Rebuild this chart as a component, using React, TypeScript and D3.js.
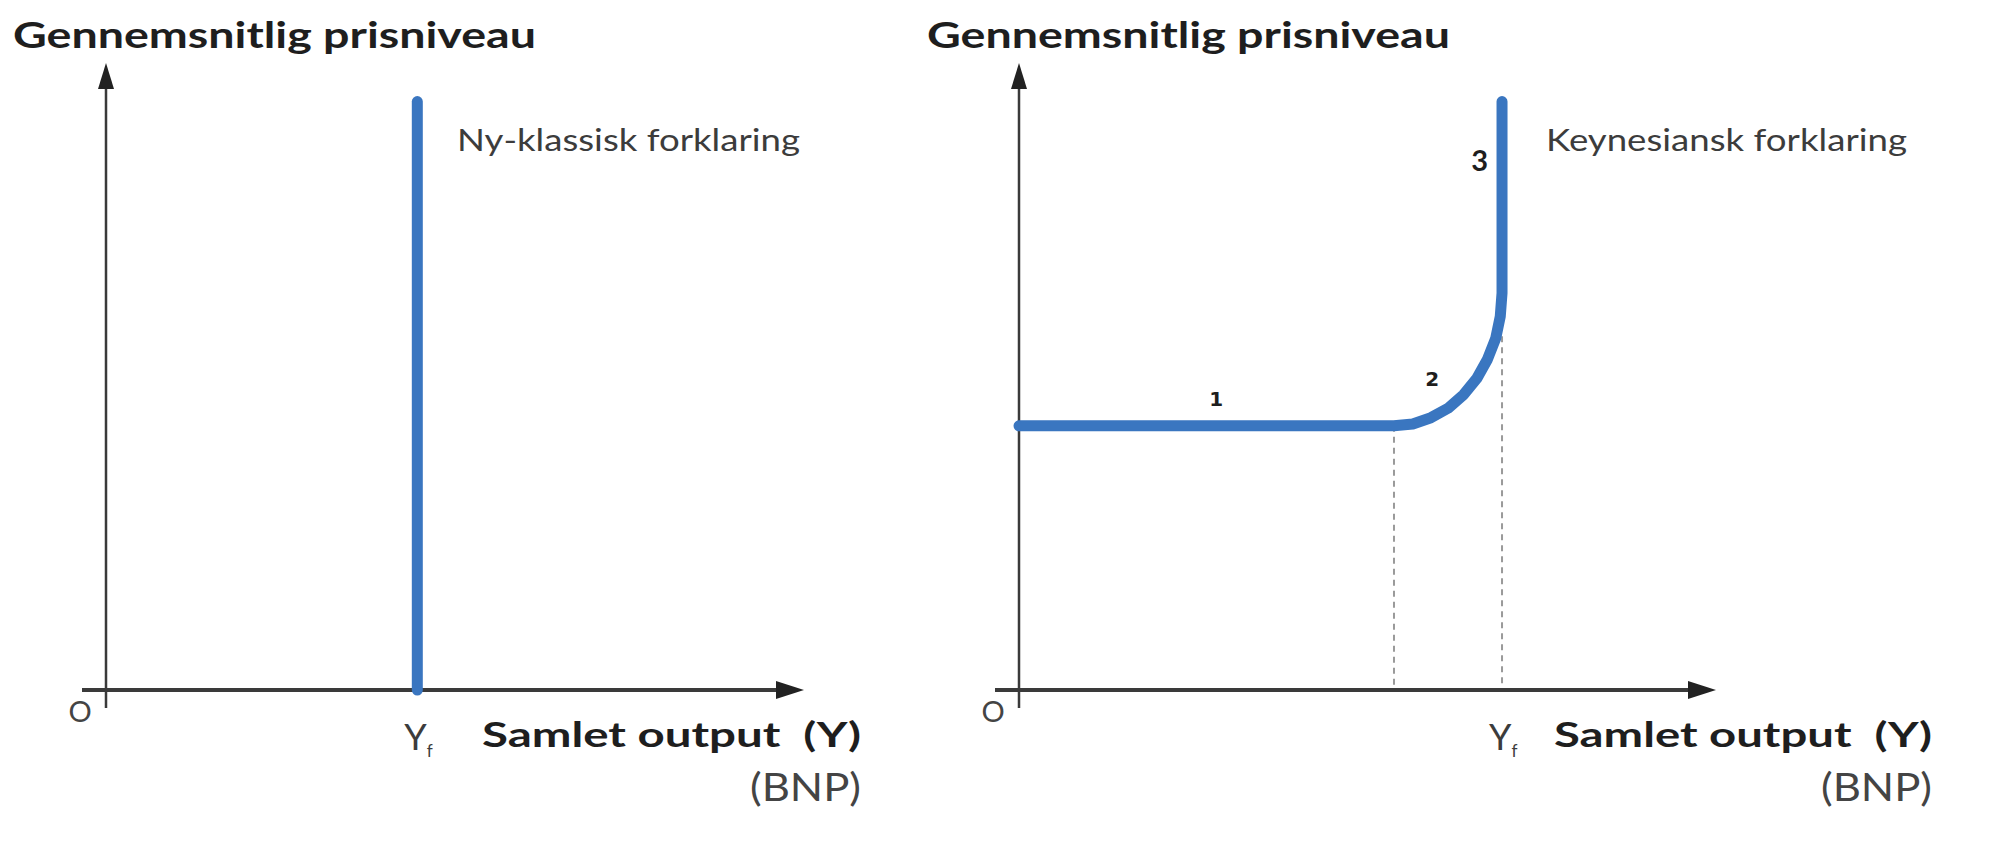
import React from "react";
import * as d3 from "d3";

// ---------- data (chart units: 0..100 on each axis) ----------
const panelNames = ["left", "right"];
const yAxisTitle = "Gennemsnitlig prisniveau";
const xAxisTitle = "Samlet output\u00A0\u00A0(Y)";
const xAxisSub = "(BNP)";
const curveLabels = ["Ny-klassisk forklaring", "Keynesiansk forklaring"];

// Neo-classical AS: vertical at Yf
const neoYf = 44.6;
const neoAS: [number, number][] = [
  [44.6, 0],
  [44.6, 94],
];

// Keynesian AS: flat, then bending, then vertical at Yf
const keyYf = 69.3;
const keyAS: [number, number][] = [
  [0, 42.2],
  [53.8, 42.2],
  [56.5, 42.5],
  [59.1, 43.5],
  [61.55, 45.0],
  [63.8, 47.2],
  [65.7, 49.8],
  [67.2, 52.8],
  [68.4, 56.2],
  [69.05, 59.7],
  [69.3, 63.4],
  [69.3, 94],
];
const dashedX = [53.8, 69.3];
const dashedTopY = [42.2, 56.5];
const segLabels = ["1", "2", "3"];
const segLabelX = [28.3, 59.3, 66.1];
const segLabelY = [46.5, 49.7, 84.7];

const BLUE = "#3a76c0";
const AXIS = "#3a3a3a";
const FONT = "Lato, 'Open Sans', sans-serif";

function Panel({ ox, tipX, side }: { ox: number; tipX: number; side: number }) {
  const x = d3.scaleLinear().domain([0, 100]).range([ox, tipX]);
  const y = d3.scaleLinear().domain([0, 100]).range([690, 64]);
  const line = d3
    .line<[number, number]>()
    .x((d) => x(d[0]))
    .y((d) => y(d[1]))
    .curve(d3.curveLinear);
  const data = side === 0 ? neoAS : keyAS;
  const yf = side === 0 ? neoYf : keyYf;
  const y0 = y(0);
  const yTop = y(100);
  const titleX = side === 0 ? 13 : 927;
  const sub = side === 0 ? 482 : 1554;
  const subEnd = side === 0 ? 861 : 1932;
  return (
    <g>
      {/* axis title */}
      <text
        x={titleX}
        y={48}
        fontFamily={FONT}
        fontWeight={700}
        fontSize={37}
        fill="#1e1e1e"
        textLength={523}
        lengthAdjust="spacingAndGlyphs"
      >
        {yAxisTitle}
      </text>
      {/* y axis */}
      <line x1={ox} x2={ox} y1={y0 + 18} y2={yTop + 20} stroke={AXIS} strokeWidth={2.5} />
      <path d={`M${ox},${yTop - 1} L${ox - 8},${yTop + 25} L${ox + 8},${yTop + 25} Z`} fill="#222" />
      {/* x axis */}
      <line x1={ox - 24} x2={tipX - 20} y1={y0} y2={y0} stroke={AXIS} strokeWidth={4} />
      <path d={`M${tipX},${y0} L${tipX - 28},${y0 - 9} L${tipX - 28},${y0 + 9} Z`} fill="#222" />
      {/* dashed guides */}
      {side === 1 &&
        dashedX.map((dx, i) => (
          <line
            key={i}
            x1={x(dx)}
            x2={x(dx)}
            y1={y(dashedTopY[i])}
            y2={y0 - 2}
            stroke="#9a9a9a"
            strokeWidth={2}
            strokeDasharray="6,5"
          />
        ))}
      {/* curve */}
      <path d={line(data) || ""} fill="none" stroke={BLUE} strokeWidth={11} strokeLinecap="round" strokeLinejoin="round" />
      {/* segment labels */}
      {side === 1 &&
        segLabels.map((s, i) => (
          <text
            key={s}
            x={x(segLabelX[i])}
            y={y(segLabelY[i])}
            textAnchor="middle"
            dominantBaseline="central"
            fontFamily={i === 2 ? FONT : "'DejaVu Sans', sans-serif"}
            fontWeight={700}
            fontSize={i === 2 ? 29 : 20}
            fill="#1e1e1e"
          >
            {s}
          </text>
        ))}
      {/* curve name */}
      <text
        x={side === 0 ? 457 : 1546}
        y={151}
        fontFamily={FONT}
        fontSize={30}
        fill="#3c3c3c"
        textLength={side === 0 ? 343 : 361}
        lengthAdjust="spacingAndGlyphs"
      >
        {curveLabels[side]}
      </text>
      {/* origin */}
      <text x={ox - 26} y={722} textAnchor="middle" fontFamily={FONT} fontSize={29} fill="#444">
        O
      </text>
      {/* Yf */}
      <text x={x(yf) - 13} y={750} fontFamily={FONT} fontSize={36} fill="#3c3c3c">
        Y
        <tspan fontSize={17} dy={7}>
          f
        </tspan>
      </text>
      {/* x axis title */}
      <text
        x={sub}
        y={747}
        fontFamily={FONT}
        fontWeight={700}
        fontSize={35}
        fill="#1e1e1e"
        textLength={subEnd - sub}
        lengthAdjust="spacingAndGlyphs"
      >
        {xAxisTitle}
      </text>
      <text
        x={subEnd - 111}
        y={801}
        fontFamily={FONT}
        fontSize={38}
        fill="#444"
        textLength={111}
        lengthAdjust="spacingAndGlyphs"
      >
        {xAxisSub}
      </text>
    </g>
  );
}

export default function App() {
  return (
    <div style={{ position: "absolute", left: 0, top: 0 }}>
      <svg width={2000} height={858} style={{ display: "block", background: "#fff" }}>
        {panelNames.map((p, i) => (
          <Panel key={p} side={i} ox={i === 0 ? 106 : 1019} tipX={i === 0 ? 804 : 1716} />
        ))}
      </svg>
    </div>
  );
}
